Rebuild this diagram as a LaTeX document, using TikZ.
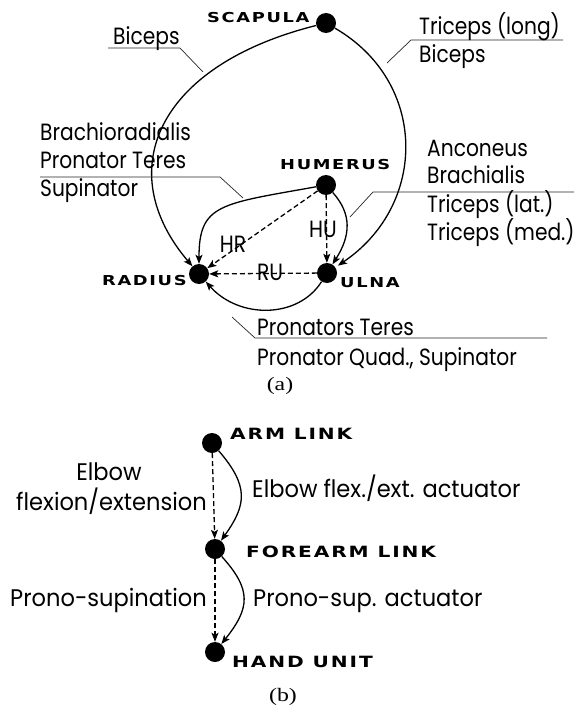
\documentclass[tikz,border=0pt]{standalone}
\usepackage{fontspec}
\setmainfont[FakeStretch=0.86]{Poppins}
\newfontfamily\bfont[FakeStretch=0.94]{Poppins}
\newfontfamily\capfont[FakeStretch=1.3,LetterSpace=12]{DejaVu Sans}
\newfontfamily\serifcap[FakeStretch=1.25]{Liberation Serif}
\usetikzlibrary{arrows.meta}
\begin{document}
\begin{tikzpicture}[x=1pt,y=1pt,
  dot/.style={circle,fill=black,minimum size=20pt,inner sep=0pt},
  lbl/.style={font=\capfont\bfseries\fontsize{13.7}{15}\selectfont, inner sep=0pt, anchor=base west},
  lblb/.style={lbl,font=\capfont\bfseries\fontsize{15.5}{17}\selectfont},
  txt/.style={font=\fontsize{23.5}{28}\selectfont, inner sep=0pt, anchor=base west},
  txtb/.style={font=\bfont\fontsize{24}{28}\selectfont, inner sep=0pt, anchor=base west},
  subcap/.style={font=\serifcap\fontsize{19}{21}\selectfont, inner sep=0pt, anchor=base},
  conn/.style={line width=1.3pt, -{Stealth[length=9pt,width=7pt,inset=2pt]}},
  dconn/.style={conn, dash pattern=on 5pt off 3pt},
  leader/.style={line width=0.7pt, black!85}
]
\useasboundingbox (0,0) rectangle (574,-706);
% ---------------- (a) ----------------
\node[dot] (sca) at (326,-23) {};
\node[dot] (hum) at (326,-185) {};
\node[dot] (rad) at (199,-274) {};
\node[dot] (uln) at (327,-273) {};
\node[lbl] (lsca) at (207,-23) {SCAPULA};
\node[lbl] (lhum) at (280,-169) {HUMERUS};
\node[lbl] (lrad) at (102,-285) {RADIUS};
\node[lbl] (luln) at (340,-287) {ULNA};
% curves
\draw[conn] (sca) .. controls (155,-66) and (112,-172) .. (rad);
\draw[conn, shorten >=3pt] (sca) .. controls (428,-82) and (428,-204.7) .. (uln);
\draw[conn] (hum) .. controls (220,-204) and (199,-204) .. (rad);
\draw[conn] (hum) .. controls (352,-214) and (350.75,-235.5) .. (uln);
\draw[conn] (uln) .. controls (298,-319) and (239,-319) .. (rad);
\draw[dconn] (hum) -- (rad);
\draw[dconn] (hum) -- (uln);
\draw[dconn] (uln) -- (rad);
\node[txt,anchor=center] (hr) at (233,-244) {HR};
\node[txt,anchor=center] (hu) at (323,-229) {HU};
\node[txt,anchor=center] (ru) at (270,-272) {RU};
% leaders
\draw[leader] (108,-48) -- (180,-48) -- (203,-72);
\draw[leader] (563,-40) -- (411,-40) -- (387,-63);
\draw[leader] (40,-177) -- (220,-177) -- (243,-198);
\draw[leader] (574,-192) -- (373,-192) -- (350,-217);
\draw[leader] (547,-338) -- (255,-338) -- (232,-317);
% texts
\node[txt] (t1) at (113,-45) {Biceps};
\node[txt] (t2) at (419,-35) {Triceps (long)};
\node[txt] (t3) at (419,-63) {Biceps};
\node[txt] (t4) at (40,-140) {Brachioradialis};
\node[txt] (t5) at (40,-168) {Pronator Teres};
\node[txt] (t6) at (40,-196) {Supinator};
\node[txt] (t7) at (427,-156) {Anconeus};
\node[txt] (t8) at (427,-183) {Brachialis};
\node[txt] (t9) at (427,-212) {Triceps (lat.)};
\node[txt] (t10) at (427,-240) {Triceps (med.)};
\node[txt] (t11) at (257,-335) {Pronators Teres};
\node[txt] (t12) at (257,-365) {Pronator Quad., Supinator};
\node[subcap] (capa) at (280,-390) {(a)};
% ---------------- (b) ----------------
\node[dot] (arm) at (212,-443) {};
\node[dot] (fore) at (215,-549) {};
\node[dot] (hand) at (215,-652) {};
\node[lblb] (larm) at (230,-439) {ARM LINK};
\node[lblb] (lfore) at (246,-557) {FOREARM LINK};
\node[lblb] (lhand) at (232,-667) {HAND UNIT};
\draw[dconn] (arm) -- (fore);
\draw[dconn] (fore) -- (hand);
\draw[conn] (arm) .. controls (249,-486) and (246.75,-504.65) .. (fore);
\draw[conn] (fore) .. controls (252,-590) and (250,-608) .. (hand);
\node[txtb,anchor=base] (e1) at (109,-480) {Elbow};
\node[txtb,anchor=base east] (e2) at (207,-510) {flexion/extension};
\node[txtb] (e3) at (252,-497) {Elbow flex./ext. actuator};
\node[txtb,anchor=base east] (p1) at (207,-606) {Prono-supination};
\node[txtb] (p2) at (253,-606) {Prono-sup. actuator};
\node[subcap] (capb) at (283,-701) {(b)};
\end{tikzpicture}
\end{document}
